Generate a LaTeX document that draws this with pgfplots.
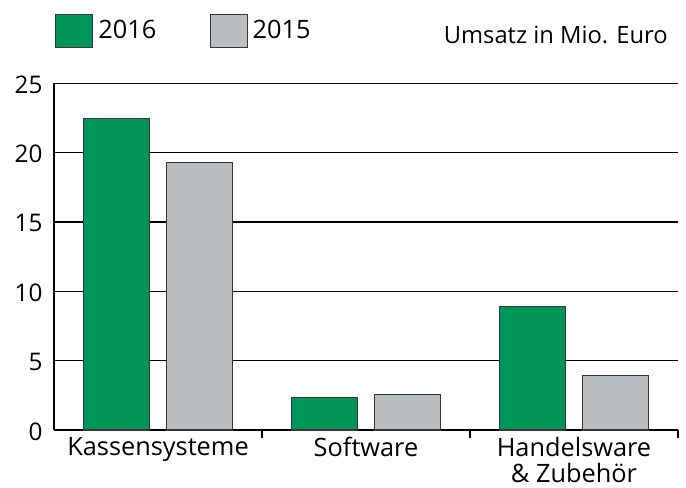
\documentclass[border=0pt]{standalone}
\usepackage{fontspec}
\setmainfont{Open Sans}
\usepackage{pgfplots}
\pgfplotsset{compat=1.18}
\definecolor{bgreen}{RGB}{0,148,89}
\definecolor{bgray}{RGB}{187,190,192}
\definecolor{bedge}{RGB}{55,55,55}
\begin{document}
\begin{tikzpicture}
\begin{axis}[
  scale only axis,
  width=468pt, height=260pt,
  clip=false,
  xmin=-0.5, xmax=2.5, ymin=0, ymax=25,
  enlargelimits=false,
  axis x line*=bottom, axis y line*=left,
  axis line style={black, line width=1.2pt},
  ytick={0,5,10,15,20,25},
  ytick style={draw=none},
  ymajorgrids,
  grid style={black, line width=0.8pt},
  xtick={0.5,1.5,2.5}, xticklabels={},
  xtick style={black, line width=1pt},
  tick align=inside,
  major tick length=6pt,
  extra x ticks={0,1,2},
  extra x tick labels={Kassensysteme,Software,{Handelsware\\\& Zubehör}},
  extra x tick style={major tick length=0pt, grid=none},
  xticklabel style={align=center, font=\fontsize{19}{19.5}\selectfont, anchor=north, inner sep=0pt, yshift=-5pt},
  yticklabel style={font=\fontsize{18.2}{19}\selectfont, anchor=east, inner sep=0pt, xshift=-8.5pt, yshift=-1pt},
  /pgf/number format/assume math mode=true,
  ybar, bar width=0.32,
  legend style={at={(axis description cs:0,1)}, anchor=north west, xshift=0.75pt, yshift=52.5pt,
    draw=none, fill=none, inner sep=0pt, legend columns=2,
    nodes={inner sep=0pt},
    font=\fontsize{19}{21}\selectfont,
    /tikz/every odd column/.append style={column sep=3.75pt},
    /tikz/every even column/.append style={column sep=40pt}},
  legend image code/.code={\draw[#1, bar shift=0pt] (0pt,-12.5pt) rectangle (27.75pt,12.5pt);},
  legend cell align=left,
]
\addplot[fill=bgreen, draw=bedge, line width=0.8pt, bar shift=-0.2] coordinates {(0,22.45) (1,2.35) (2,8.93)};
\addplot[fill=bgray, draw=bedge, line width=0.8pt, bar shift=0.2] coordinates {(0,19.32) (1,2.57) (2,3.96)};
\legend{2016,2015}
\node[anchor=base east, inner sep=0pt, font=\fontsize{17.8}{19}\selectfont, yshift=30pt] at (axis description cs:0.984,1) {Umsatz in Mio. Euro};
\end{axis}
\pgfresetboundingbox
\path (current axis.south west) ++(-40.5pt,-43.5pt) rectangle ([xshift=6pt,yshift=62.5pt]current axis.north east);
\end{tikzpicture}
\end{document}
